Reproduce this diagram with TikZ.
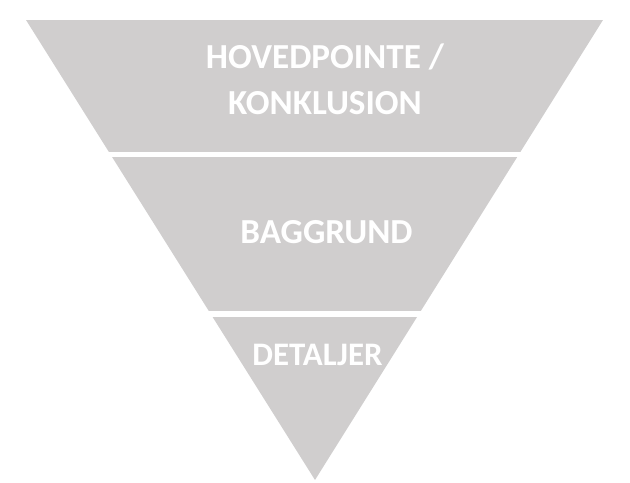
\documentclass[tikz,border=0pt]{standalone}
\usepackage{fontspec}
\setmainfont{Carlito}
\definecolor{funnelgray}{HTML}{D0CECE}
\tikzset{bandtext/.style={text=white,font=\bfseries\fontsize{20}{26}\selectfont,align=center,inner sep=0pt}}
\begin{document}
\begin{tikzpicture}[line join=round]
            \useasboundingbox (0,0) rectangle (12.6,9.66);
            \coordinate (A) at (0.52,9.26);
            \coordinate (B) at (12.06,9.26);
            \coordinate (C) at (6.30,0.06);
            \begin{scope}
            \clip (A)--(B)--(C)--cycle;
            \foreach \lo/\hi in {6.62/9.26,3.44/6.52,0/3.32}
            \fill[funnelgray] (0,\lo) rectangle (12.6,\hi);
            \end{scope}
            \node[bandtext] (top) at (6.5,8.08) {HOVEDPOINTE /\\KONKLUSION};
            \node[bandtext] (mid) at (6.53,5.01) {BAGGRUND};
            \node[bandtext,font=\bfseries\fontsize{18.7}{24}\selectfont] (bot) at (6.35,2.56) {DETALJER};
        \end{tikzpicture}
\end{document}
